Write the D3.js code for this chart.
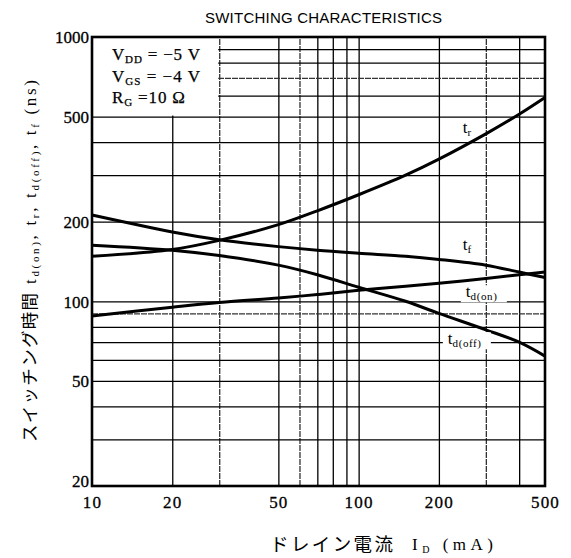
<!DOCTYPE html>
<html><head><meta charset="utf-8">
<script src="https://cdn.jsdelivr.net/npm/d3@7"></script>
<style>body{margin:0;background:#fff;} svg{display:block;background:#fff;}</style>
</head><body><svg id="c" width="571" height="558"></svg>
<script>
// ---- data ----
const current = [10, 20, 30, 50, 70, 100, 150, 200, 300, 400, 500];          // I_D (mA)
const tr    = [148, 157, 170, 195, 220, 253, 300, 345, 430, 510, 590];       // ns
const tf    = [212, 183, 171, 161, 156, 152, 148, 144, 137, 129, 123];
const tdOn  = [88, 95, 99, 103, 106, 110, 114, 117, 122, 126, 129];
const tdOff = [163, 156, 149, 137, 126, 113, 100, 90, 78, 70, 62];
const xTickVals = [10, 20, 50, 100, 200, 500];
const yTickVals = [20, 50, 100, 200, 500, 1000];
const xGridVals = [20, 30, 50, 60, 70, 80, 90, 100, 200, 300, 400];
const yGridVals = [30, 40, 50, 60, 70, 80, 90, 100, 200, 300, 400, 500, 600, 700, 800, 900];
const dashedX = [30, 60, 300];
const dashedY = [90, 700];
const titleText = "SWITCHING CHARACTERISTICS";

const svg = d3.select('#c');
const L = 92, R = 545, T = 37, B = 486;
const x = d3.scaleLog().domain([10, 500]).range([L, R]);
const y = d3.scaleLog().domain([20, 1000]).range([B, T]);
const serif = '"Liberation Serif","Times New Roman",serif';

// grid lines
const gx = svg.append('g').attr('transform', `translate(0,${B})`)
  .call(d3.axisBottom(x).tickValues(xGridVals).tickSize(-(B - T)).tickFormat(''));
gx.select('.domain').remove();
gx.selectAll('line').attr('stroke', d => dashedX.includes(d) ? '#333' : '#000').attr('stroke-width', 1.3)
  .attr('stroke-dasharray', d => dashedX.includes(d) ? '6,1' : null);
const gy = svg.append('g').attr('transform', `translate(${L},0)`)
  .call(d3.axisLeft(y).tickValues(yGridVals).tickSize(-(R - L)).tickFormat(''));
gy.select('.domain').remove();
gy.selectAll('line').attr('stroke', d => dashedY.includes(d) ? '#333' : '#000').attr('stroke-width', 1.3)
  .attr('stroke-dasharray', d => dashedY.includes(d) ? '6,1' : null);

// blank box for conditions
svg.append('rect').attr('x', x(10)).attr('y', y(1000))
  .attr('width', x(30) - x(10) - 1).attr('height', y(500) - y(1000) - 1).attr('fill', '#fff');

// curves
const series = [tr, tf, tdOn, tdOff];
const line = d3.line().x(d => x(d[0])).y(d => y(d[1])).curve(d3.curveCatmullRom.alpha(0.5));
series.forEach(s => {
  svg.append('path').datum(current.map((c, i) => [c, s[i]]))
    .attr('d', line).attr('fill', 'none').attr('stroke', '#000').attr('stroke-width', 3);
});

// frame
svg.append('rect').attr('x', L).attr('y', T).attr('width', R - L).attr('height', B - T)
  .attr('fill', 'none').attr('stroke', '#000').attr('stroke-width', 2.6);

// tick labels
const ax = svg.append('g').attr('transform', `translate(0,${B})`)
  .call(d3.axisBottom(x).tickValues(xTickVals).tickSize(0).tickPadding(10).tickFormat(d3.format('d')));
ax.select('.domain').remove();
ax.selectAll('text').attr('font-family', serif).attr('font-size', 17).attr('fill', '#000')
  .attr('letter-spacing', 1.2).attr('stroke', '#000').attr('stroke-width', 0.3);
const ay = svg.append('g').attr('transform', `translate(${L},0)`)
  .call(d3.axisLeft(y).tickValues(yTickVals).tickSize(0).tickPadding(3).tickFormat(d3.format('d')));
ay.select('.domain').remove();
ay.selectAll('text').attr('font-family', serif).attr('font-size', 17).attr('fill', '#000')
  .attr('stroke', '#000').attr('stroke-width', 0.3)
  .attr('dy', d => d === 20 ? '0.0em' : '0.35em');

// title
svg.append('text').attr('x', 205).attr('y', 23).attr('textLength', 237)
  .attr('font-family', '"Liberation Sans",Arial,sans-serif').attr('font-size', 15)
  .text(titleText);

// conditions
const cond = [
  {main: 'V', sub: 'DD', rest: ' = \u22125 V', yy: 60, len: 88},
  {main: 'V', sub: 'GS', rest: ' = \u22124 V', yy: 82, len: 88},
  {main: 'R', sub: 'G', rest: ' =10  \u03A9', yy: 103, len: 73}
];
cond.forEach(c => {
  const t = svg.append('text').attr('x', 112).attr('y', c.yy).attr('textLength', c.len)
    .attr('font-family', serif).attr('font-size', 17).attr('fill', '#000')
    .attr('stroke', '#000').attr('stroke-width', 0.25);
  t.append('tspan').text(c.main);
  t.append('tspan').attr('font-size', 11).attr('dy', 3).text(c.sub);
  t.append('tspan').attr('dy', -3).text(c.rest);
});

// curve labels
function tlabel(px, py, sub, bg) {
  const g = svg.append('g');
  if (bg) g.append('rect').attr('x', px - 5).attr('y', py - 12).attr('width', bg).attr('height', 17).attr('fill', '#fff');
  const t = g.append('text').attr('x', px).attr('y', py)
    .attr('font-family', serif).attr('font-size', 17).attr('fill', '#000');
  t.append('tspan').text('t');
  t.append('tspan').attr('font-size', 11).attr('dy', 3).attr('letter-spacing', 0.6).text(sub);
}
tlabel(x(300) - 23, y(500) + 16, 'r');
tlabel(x(300) - 23, y(150) - 5, 'f');
tlabel(x(300) - 20, y(100) - 4, 'd(on)', 46);
tlabel(x(300) - 38, y(70) + 2, 'd(off)', 48);

// y axis title (rotated)
const yt = svg.append('g').attr('transform', 'translate(36,0) rotate(-90)');
yt.append('text').attr('x', -442).attr('y', 0).attr('textLength', 149)
  .attr('font-family', '"Noto Sans CJK JP",sans-serif').attr('font-size', 17.5).attr('fill', '#000')
  .text('スイッチング時間');
const yl = yt.append('text').attr('x', -284).attr('y', 0).attr('textLength', 204)
  .attr('font-family', serif).attr('font-size', 17).attr('fill', '#000');
[['t', 'd(on)', ', '], ['t', 'r', ', '], ['t', 'd(off)', ', '], ['t', 'f', ' (ns)']].forEach(p => {
  yl.append('tspan').text(p[0]);
  yl.append('tspan').attr('font-size', 11).attr('dy', 3).text(p[1]);
  yl.append('tspan').attr('dy', -3).text(p[2]);
});

// x axis title
svg.append('text').attr('x', 270).attr('y', 551).attr('textLength', 123)
  .attr('font-family', '"Noto Sans CJK JP",sans-serif').attr('font-size', 18.5).attr('fill', '#000')
  .text('ドレイン電流');
const xl = svg.append('text').attr('x', 412).attr('y', 550).attr('textLength', 81)
  .attr('font-family', serif).attr('font-size', 17).attr('fill', '#000');
xl.append('tspan').text('I');
xl.append('tspan').attr('font-size', 10).attr('dy', 3).text('D');
xl.append('tspan').attr('dy', -3).text(' (mA)');
</script></body></html>
